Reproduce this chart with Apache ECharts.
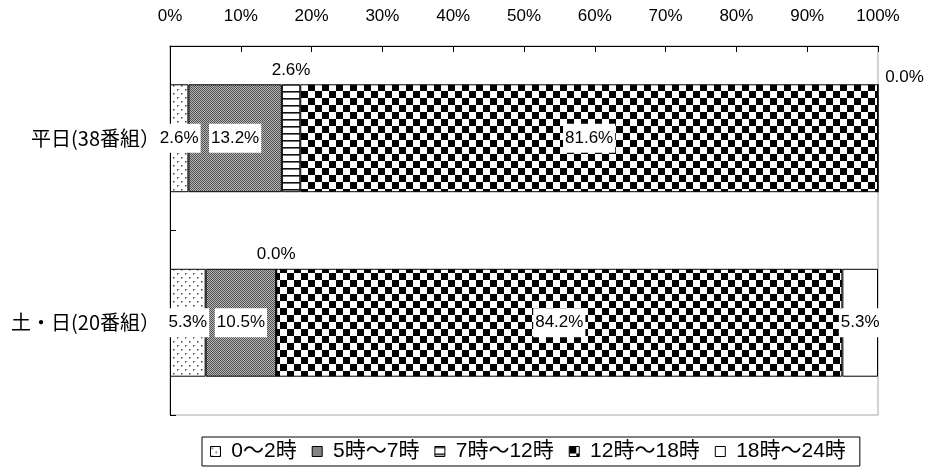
<!DOCTYPE html>
<html>
<head>
<meta charset="utf-8">
<script src="https://cdn.jsdelivr.net/npm/echarts@6/dist/echarts.min.js"></script>
<style>
  html, body { margin: 0; padding: 0; background: #fff; }
  #chart { width: 926px; height: 474px; }
</style>
</head>
<body>
<div id="chart"></div>
<script>
// Broadcast time-slot shares per programme group (%)
const categories = ['平日(38番組）', '土・日(20番組）'];
const slotNames = ['0～2時', '5時～7時', '7時～12時', '12時～18時', '18時～24時'];
const slot0to2 = [2.6, 5.3];
const slot5to7 = [13.2, 10.5];
const slot7to12 = [2.6, 0.0];
const slot12to18 = [81.6, 84.2];
const slot18to24 = [0.0, 5.3];
const xTicks = [0, 10, 20, 30, 40, 50, 60, 70, 80, 90, 100];

const slotValues = [slot0to2, slot5to7, slot7to12, slot12to18, slot18to24];

// 100% stacked: each row is scaled by its own total
const rowTotals = categories.map((_, i) => slotValues.reduce((s, arr) => s + arr[i], 0));

const NUM_FONT = '"Liberation Sans", "Noto Sans CJK JP", sans-serif';

function makePattern(size, draw) {
  const c = document.createElement('canvas');
  c.width = size[0];
  c.height = size[1];
  const ctx = c.getContext('2d');
  draw(ctx, size[0], size[1]);
  return { image: c, repeat: 'repeat' };
}

const fills = [
  // sparse dots
  makePattern([8, 8], (ctx, w, h) => {
    ctx.fillStyle = '#fff'; ctx.fillRect(0, 0, w, h);
    ctx.fillStyle = '#444';
    ctx.fillRect(1, 1, 1.5, 1.5);
    ctx.fillRect(5, 5, 1.5, 1.5);
  }),
  // fine grey dither
  makePattern([2, 2], (ctx, w, h) => {
    ctx.fillStyle = '#b8b8b8'; ctx.fillRect(0, 0, w, h);
    ctx.fillStyle = '#505050';
    ctx.fillRect(0, 0, 1, 1);
    ctx.fillRect(1, 1, 1, 1);
  }),
  // horizontal stripes
  makePattern([8, 7], (ctx, w, h) => {
    ctx.fillStyle = '#fff'; ctx.fillRect(0, 0, w, h);
    ctx.fillStyle = '#111';
    ctx.fillRect(0, 0, w, 1.6);
  }),
  // large checkerboard
  makePattern([14, 14], (ctx, w, h) => {
    ctx.fillStyle = '#fff'; ctx.fillRect(0, 0, w, h);
    ctx.fillStyle = '#000';
    ctx.fillRect(0, 0, 7, 7);
    ctx.fillRect(7, 7, 7, 7);
  }),
  '#ffffff'
];

// label placement overrides, keyed "slot:row"
const labelOverrides = {
  '2:0': { position: 'top', distance: 5, backgroundColor: 'transparent', padding: 0 },
  '4:0': { position: [27, -6], align: 'center', verticalAlign: 'middle', backgroundColor: 'transparent', padding: 0 },
  '2:1': { position: 'top', distance: 5, backgroundColor: 'transparent', padding: 0 }
};

const series = slotNames.map((name, si) => ({
  name: name,
  type: 'bar',
  stack: 'share',
  barWidth: '58.5%',
  itemStyle: { color: fills[si], borderColor: '#000', borderWidth: 1 },
  label: {
    show: true,
    position: 'inside',
    color: '#000',
    fontFamily: NUM_FONT,
    fontSize: 17,
    backgroundColor: '#fff',
    padding: [6, 2],
    formatter: (p) => slotValues[si][p.dataIndex].toFixed(1) + '%'
  },
  data: slotValues[si].map((v, ci) => {
    const item = { value: v / rowTotals[ci] * 100 };
    const ov = labelOverrides[si + ':' + ci];
    if (ov) item.label = ov;
    return item;
  })
}));

const chart = echarts.init(document.getElementById('chart'), null, { renderer: 'canvas' });
chart.setOption({
  animation: false,
  backgroundColor: '#fff',
  grid: {
    left: 170, right: 48, top: 46, bottom: 59,
    show: true, borderColor: '#a8a8a8', borderWidth: 1, backgroundColor: 'transparent'
  },
  xAxis: {
    type: 'value',
    position: 'top',
    min: xTicks[0],
    max: xTicks[xTicks.length - 1],
    interval: xTicks[1] - xTicks[0],
    axisLine: { show: true, lineStyle: { color: '#000', width: 1 } },
    axisTick: { show: true, inside: true, length: 6, lineStyle: { color: '#000' } },
    splitLine: { show: false },
    axisLabel: {
      margin: 21,
      color: '#000',
      fontFamily: NUM_FONT,
      fontSize: 17,
      formatter: '{value}%'
    }
  },
  yAxis: {
    type: 'category',
    inverse: true,
    data: categories,
    axisLine: { show: true, lineStyle: { color: '#000', width: 1 } },
    axisTick: { show: true, inside: true, length: 6, lineStyle: { color: '#000' } },
    axisLabel: {
      margin: 10,
      color: '#000',
      fontFamily: '"Noto Sans CJK JP", sans-serif',
      fontSize: 20,
      padding: [8, 0, 0, 0]
    }
  },
  legend: {
    left: 202,
    top: 437,
    orient: 'horizontal',
    borderColor: '#000',
    borderWidth: 1,
    padding: [4, 14, 4, 8],
    itemGap: 15,
    itemWidth: 10,
    itemHeight: 10,
    icon: 'rect',
    itemStyle: { borderColor: '#000', borderWidth: 1 },
    formatter: (name) => ' ' + name,
    textStyle: { color: '#000', fontFamily: NUM_FONT, fontSize: 21 },
    data: slotNames
  },
  series: series
});
</script>
</body>
</html>
